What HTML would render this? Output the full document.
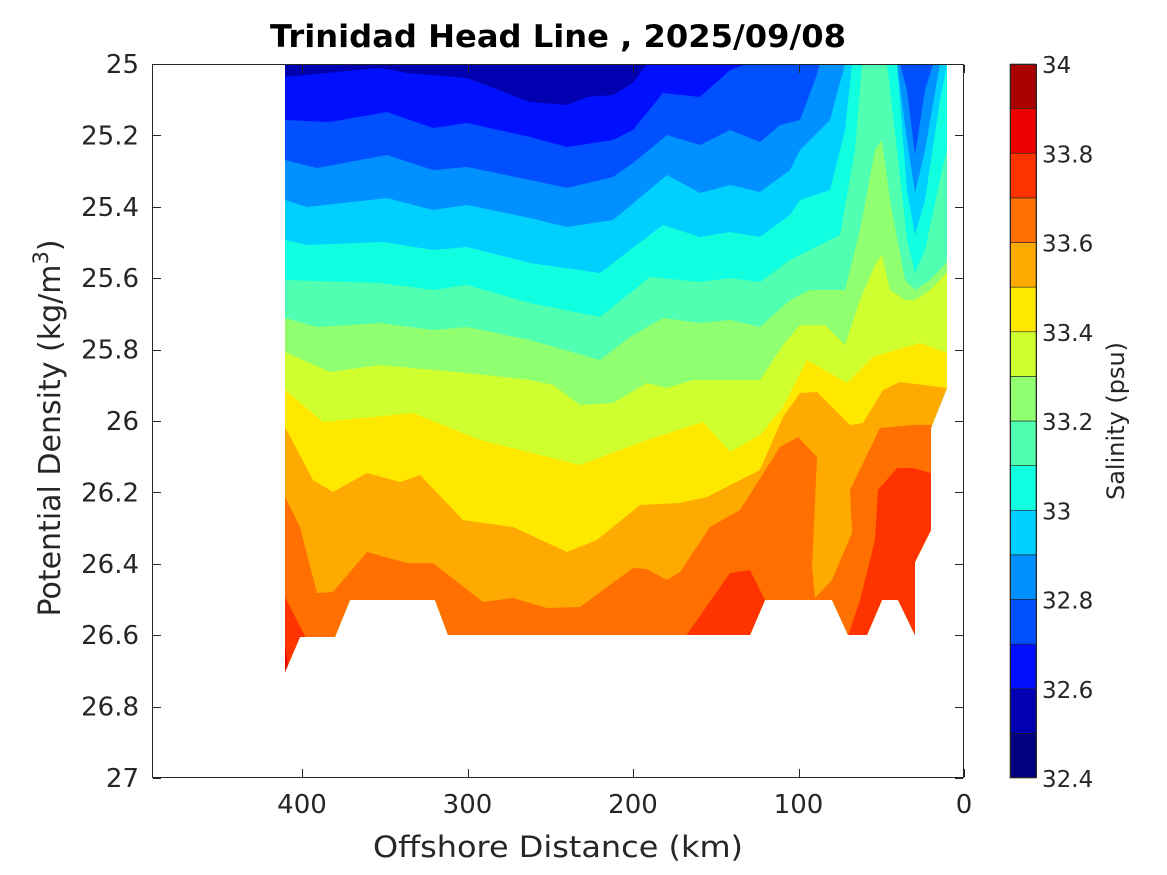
<!DOCTYPE html>
<html><head><meta charset="utf-8"><style>
html,body{margin:0;padding:0;background:#fff;}
svg{display:block;}
text{font-family:"DejaVu Sans","Liberation Sans",sans-serif;fill:#262626;}
</style></head><body>
<svg id="s" width="1167" height="875" viewBox="0 0 1167 875" xmlns="http://www.w3.org/2000/svg">
<defs>
<clipPath id="dc"><polygon points="285,64 947,64 947,388 931,428 931,530 915,562 915,635 898,600 882,600 867,635 848,635 832,600 765,600 750,635 448,635 435,600 350,600 335,637 300,637 285,672"/></clipPath>
</defs>
<g id="bands" clip-path="url(#dc)"></g>
<g fill="none" stroke="#262626" stroke-width="1">
<rect x="152.5" y="64.5" width="811" height="713"/>
</g>
<g id="ticks" stroke="#262626" stroke-width="1"></g>
<g id="labels" font-size="26"></g>
<text x="558" y="47" font-size="31" font-weight="bold" text-anchor="middle" style="fill:#000" textLength="576" lengthAdjust="spacingAndGlyphs">Trinidad Head Line , 2025/09/08</text>
<text x="558" y="857" font-size="29" text-anchor="middle" textLength="370" lengthAdjust="spacingAndGlyphs">Offshore Distance (km)</text>
<text transform="translate(60,428) rotate(-90)" font-size="30" text-anchor="middle">Potential Density (kg/m<tspan dy="-12" font-size="21">3</tspan><tspan dy="12">)</tspan></text>
<g id="cbar"></g>
<text transform="translate(1124,421) rotate(-90)" font-size="24" text-anchor="middle">Salinity (psu)</text>
</svg>
<script>
const NS="http://www.w3.org/2000/svg";
function el(p,t,a,txt){const e=document.createElementNS(NS,t);for(const k in a)e.setAttribute(k,a[k]);if(txt!==undefined)e.textContent=txt;p.appendChild(e);return e;}
const cols=["#000080","#0000b0","#0010ff","#0050ff","#0090ff","#00d0ff","#10ffe0","#50ffb0","#90ff70","#d0ff30","#ffe800","#ffaa00","#ff7000","#ff3300","#ee0000","#aa0000"];
const B={
2:[[285,77],[380,68],[407,73],[467,78],[530,102],[567,105],[587,97],[613,95],[633,83],[647,64],[947,64]],
3:[[285,120],[330,122],[387,112],[433,128],[467,123],[530,137],[567,147],[613,140],[633,130],[663,93],[700,97],[730,70],[747,64],[947,64]],
4:[[285,160],[317,168],[387,155],[433,170],[467,167],[530,180],[567,188],[613,177],[633,163],[667,135],[700,145],[730,130],[760,142],[780,125],[800,120],[815,80],[820,64],[900,64],[907,90],[915,155],[925,90],[933,64],[947,64]],
5:[[285,200],[307,207],[387,198],[433,210],[467,205],[530,218],[567,227],[613,220],[667,175],[700,193],[730,185],[760,192],[790,170],[800,150],[830,120],[845,64],[897,64],[907,140],[915,193],[925,150],[940,64],[947,64]],
6:[[285,240],[307,245],[383,242],[433,250],[467,247],[530,263],[600,273],[630,250],[663,225],[700,237],[730,232],[760,237],[790,215],[800,200],[830,190],[845,130],[852,64],[897,64],[907,190],[915,235],[925,200],[940,100],[947,64]],
7:[[285,280],[380,283],[433,290],[467,285],[530,303],[600,317],[630,293],[650,277],[700,282],[730,278],[760,282],[790,260],[810,250],[840,235],[855,150],[862,64],[887,64],[897,150],[907,240],[915,273],[925,250],[940,180],[947,150]],
8:[[285,318],[317,327],[380,323],[433,330],[467,327],[530,340],[600,360],[630,337],[663,318],[700,323],[730,320],[760,327],[790,300],[810,290],[845,290],[860,230],[875,150],[882,140],[890,200],[905,280],[915,290],[930,280],[947,262]],
9:[[285,352],[330,372],[380,365],[467,373],[530,380],[553,385],[580,405],[613,403],[647,383],[667,388],[693,380],[730,380],[760,380],[783,345],[800,325],[825,325],[845,345],[860,300],[875,265],[882,255],[890,290],[905,300],[915,300],[930,290],[947,272]],
10:[[285,390],[323,422],[413,413],[480,440],[580,465],[647,440],[703,422],[730,452],[760,435],[783,407],[807,360],[847,383],[873,357],[920,343],[947,353]],
11:[[285,427],[313,480],[333,492],[367,473],[400,482],[420,475],[463,520],[513,527],[567,552],[597,540],[640,505],[680,503],[707,497],[760,470],[783,417],[800,393],[817,392],[850,425],[863,423],[883,390],[900,382],[947,388]],
12:[[285,497],[300,527],[317,593],[333,592],[367,552],[407,563],[433,563],[483,602],[513,598],[547,608],[580,607],[633,568],[647,569],[667,580],[680,572],[710,527],[740,510],[780,447],[798,437],[817,457],[812,567],[815,598],[832,580],[852,533],[850,490],[880,428],[913,425],[947,425]],
13:[[285,597],[307,640],[683,640],[730,573],[750,570],[765,600],[770,645],[845,645],[860,600],[875,540],[878,490],[897,468],[913,468],[931,473],[947,473]],
14:[[285,645],[287,660],[292,685],[947,685]]
};
const g=document.getElementById("bands");
el(g,"rect",{x:280,y:60,width:680,height:640,fill:cols[1]});
for(let k=2;k<=14;k++){
 const pts=B[k].map(p=>p.join(",")).join(" ")+" 960,760 280,760";
 el(g,"polygon",{points:pts,fill:cols[k]});
}
const tk=document.getElementById("ticks"),lb=document.getElementById("labels");
for(let i=0;i<=10;i++){
 const y=64+i*71.4, yy=Math.round(y)+0.5;
 el(tk,"line",{x1:153,y1:yy,x2:161,y2:yy});
 el(tk,"line",{x1:955,y1:yy,x2:963,y2:yy});
 const v=(25+i*0.2);let s=(Math.abs(v-Math.round(v))<1e-6)?String(Math.round(v)):v.toFixed(1);
 el(lb,"text",{x:139,y:y+9,"text-anchor":"end"},s);
}
for(let i=0;i<=4;i++){
 const x=964-i*165.5, xx=Math.round(x)+0.5;
 el(tk,"line",{x1:xx,y1:777,x2:xx,y2:769});
 el(tk,"line",{x1:xx,y1:65,x2:xx,y2:73});
 el(lb,"text",{x:x,y:813,"text-anchor":"middle"},String(i*100));
}
const cb=document.getElementById("cbar");
const h=714/16;
for(let i=0;i<16;i++){
 el(cb,"rect",{x:1010,y:778-(i+1)*h,width:26,height:h,fill:cols[i],stroke:"#222","stroke-width":0.6});
}
el(cb,"rect",{x:1010.5,y:64.5,width:26,height:713,fill:"none",stroke:"#262626","stroke-width":1});
const cl=["32.4","32.6","32.8","33","33.2","33.4","33.6","33.8","34"];
for(let i=0;i<9;i++){
 const y=778-i*2*h;
 el(cb,"text",{x:1042,y:y+9,"font-size":23},cl[i]);
}
</script>
</body></html>
